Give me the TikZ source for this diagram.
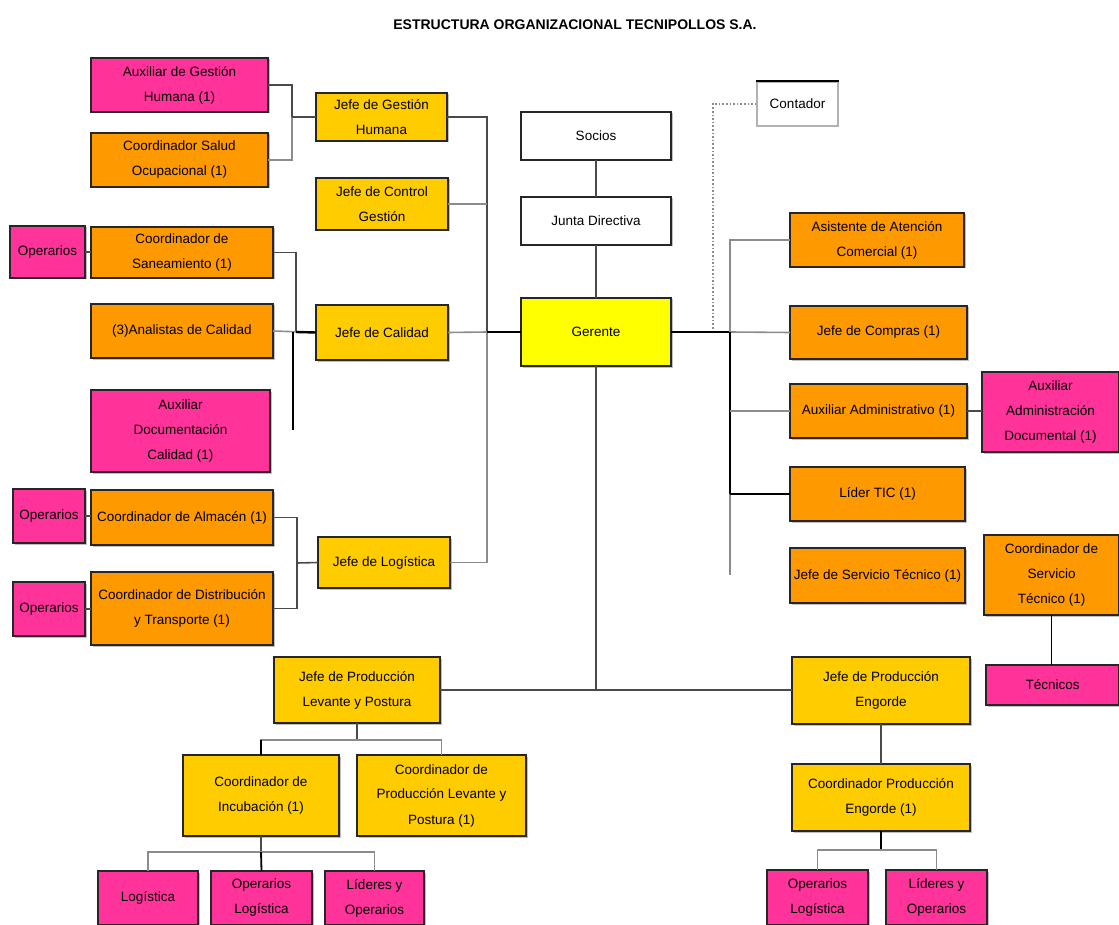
\documentclass[tikz,border=0pt]{standalone}
\usepackage{fontspec}
\setmainfont{Liberation Sans}
\usetikzlibrary{shadows}
\definecolor{pk}{HTML}{FF3399}
\definecolor{org}{HTML}{FF9900}
\definecolor{yl}{HTML}{FFCC00}
\definecolor{gy}{HTML}{FFFF00}
\definecolor{ln}{HTML}{4A4A4A}
\tikzset{
 base/.style={draw=black!85, line width=1.5pt, align=center, inner sep=0pt, outer sep=0pt,
   font=\fontsize{13.5}{25}\selectfont,
   drop shadow={shadow xshift=1.5pt, shadow yshift=-1.5pt, fill=black!25, opacity=1}},
 pinkbox/.style={base, fill=pk},
 orangebox/.style={base, fill=org},
 yellowbox/.style={base, fill=yl},
 whitebox/.style={base, fill=white},
 gerbox/.style={base, fill=gy},
 conn/.style={draw=ln, line width=1.6pt},
 dark/.style={draw=black, line width=2.4pt},
 light/.style={draw=black!45, line width=1.6pt},
 dotline/.style={draw=black!45, line width=1.6pt, dotted},
}
\newcommand\mybox[7]{\node[#6, minimum width={(#4-#2)*1pt}, minimum height={(#5-#3)*1pt}] (#1) at ({(#2+#4)/2},{(#3+#5)/2}) {#7};}
\begin{document}
\begin{tikzpicture}[x=1pt,y=-1pt]
\useasboundingbox[fill=white] (0,0) rectangle (1119,925);
\node[font=\fontsize{14}{16}\selectfont\bfseries] (title) at (575,25) {ESTRUCTURA ORGANIZACIONAL TECNIPOLLOS S.A.};
% left top
\mybox{auxgh}{91}{58}{268}{112}{pinkbox}{Auxiliar de Gestión\\Humana (1)}
\mybox{csalud}{91}{133}{268}{187}{orangebox}{Coordinador Salud\\Ocupacional (1)}
\mybox{jgh}{316}{93}{447}{141}{yellowbox}{Jefe de Gestión\\Humana}
\mybox{jcg}{316}{178}{448}{230}{yellowbox}{Jefe de Control\\Gestión}
% calidad
\mybox{op1}{10}{226}{85}{278}{pinkbox}{Operarios}
\mybox{csan}{91}{227}{273}{278}{orangebox}{Coordinador de\\Saneamiento (1)}
\mybox{anal}{91}{304}{273}{358}{orangebox}{(3)Analistas de Calidad}
\mybox{jcal}{316}{305}{448}{360}{yellowbox}{Jefe de Calidad}
\mybox{auxdoc}{91}{390}{270}{472}{pinkbox}{Auxiliar\\Documentación\\Calidad (1)}
% logistica
\mybox{op2}{13}{489}{85}{543}{pinkbox}{Operarios}
\mybox{calm}{91}{490}{273}{545}{orangebox}{Coordinador de Almacén (1)}
\mybox{op3}{13}{582}{85}{636}{pinkbox}{Operarios}
\mybox{cdist}{91}{572}{273}{645}{orangebox}{Coordinador de Distribución\\y Transporte (1)}
\mybox{jlog}{318}{537}{450}{588}{yellowbox}{Jefe de Logística}
% center
\mybox{socios}{521}{112}{671}{160}{whitebox}{Socios}
\mybox{junta}{521}{197}{671}{245}{whitebox}{Junta Directiva}
\mybox{ger}{521}{298}{671}{366}{gerbox}{Gerente}
\node[draw=black!30, line width=1.2pt, fill=white, minimum width=81pt, minimum height=44pt, inner sep=0pt, font=\fontsize{13.5}{25}\selectfont] (cont) at (797.5,104) {Contador};
\draw[black, line width=2pt] (cont.north west) -- (cont.north east);
% right
\mybox{aac}{790}{213}{964}{267}{orangebox}{Asistente de Atención\\Comercial (1)}
\mybox{jcomp}{790}{306}{967}{359}{orangebox}{Jefe de Compras (1)}
\mybox{auxadm}{790}{384}{967}{438}{orangebox}{Auxiliar Administrativo (1)}
\mybox{auxadmdoc}{982}{372}{1119}{452}{pinkbox}{Auxiliar\\Administración\\Documental (1)}
\mybox{ltic}{790}{467}{965}{521}{orangebox}{Líder TIC (1)}
\mybox{jst}{790}{548}{965}{603}{orangebox}{Jefe de Servicio Técnico (1)}
\mybox{cst}{984}{535}{1119}{615}{orangebox}{Coordinador de\\Servicio\\Técnico (1)}
\mybox{tec}{986}{665}{1119}{705}{pinkbox}{Técnicos}
% bottom left
\mybox{jpl}{274}{657}{440}{723}{yellowbox}{Jefe de Producción\\Levante y Postura}
\mybox{cinc}{183}{755}{339}{836}{yellowbox}{Coordinador de\\Incubación (1)}
\mybox{cpl}{357}{755}{526}{836}{yellowbox}{Coordinador de\\Producción Levante y\\Postura (1)}
\mybox{p1}{98}{871}{198}{925}{pinkbox}{Logística}
\mybox{p2}{211}{871}{312}{925}{pinkbox}{Operarios\\Logística}
\mybox{p3}{325}{871}{424}{925}{pinkbox}{Líderes y\\Operarios}
% bottom right
\mybox{jpe}{792}{657}{970}{724}{yellowbox}{Jefe de Producción\\Engorde}
\mybox{cpe}{792}{764}{970}{831}{yellowbox}{Coordinador Producción\\Engorde (1)}
\mybox{q1}{767}{870}{868}{925}{pinkbox}{Operarios\\Logística}
\mybox{q2}{886}{870}{987}{925}{pinkbox}{Líderes y\\Operarios}
% junction coordinates
\coordinate (jA) at (292,117);
\coordinate (tL) at (487,332);
\coordinate (cA) at (296,332);
\coordinate (cB) at (293,430);
\coordinate (lA) at (297,563);
\coordinate (gB) at (596,690);
\coordinate (rT) at (730,332);
\coordinate (rBot) at (730,575);
\coordinate (dT) at (713,330);
\coordinate (bL) at (357,740);
\coordinate (bL2) at (261,852);
\coordinate (bR) at (881,850);
% connectors
\draw[conn] (auxgh.east) -| (jA);
\draw[light] (csalud.east) -| (jA);
\draw[conn] (jA) -- (jgh.west);
\draw[conn] (jgh.east) -| (tL);
\draw[light] (jcg.east) -- (jcg.east -| tL);
\draw[light] (jlog.east) -| (tL);
\draw[light] (jcal.east) -- (tL);
\draw[dark] (tL) -- (ger.west);
\draw[conn] (op1.east) -- (op1.east -| csan.west);
\draw[conn] (csan.east) -| (cA);
\draw[light] (anal.east) -- (jcal.west);
\draw[dark] (cA) -- (jcal.west);
\coordinate (cC) at (293,332);
\draw[black, line width=2pt] (cC) -- (cB);
\draw[conn] (op2.east) -- (op2.east -| calm.west);
\draw[conn] (op3.east) -- (op3.east -| cdist.west);
\draw[conn] (calm.east) -| (lA);
\draw[conn] (cdist.east) -| (lA);
\draw[conn] (lA) -- (jlog.west);
\draw[conn] (socios) -- (junta);
\draw[conn] (junta) -- (ger);
\draw[conn] (ger.south) -- (gB);
\draw[conn] (jpl.east) -- (gB);
\draw[conn] (gB) -- (gB -| jpe.west);
\draw[dotline] (cont.west) -| (dT);
\draw[dark] (ger.east) -- (rT);
\draw[light] (rT) -- (jcomp.west);
\draw[light] (aac.west) -| (rT);
\draw[black, line width=2.2pt] (rT) -- (ltic.west -| rT);
\draw[light] (ltic.west -| rT) -- (rBot);
\draw[light] (auxadm.west) -- (auxadm.west -| rT);
\draw[black, line width=2pt] (ltic.west) -- (ltic.west -| rT);
\draw[conn] (auxadm.east) -- (auxadm.east -| auxadmdoc.west);
\draw[black, line width=1.8pt] (cst.south) -- (cst.south |- tec.north);
\draw[conn] (jpl.south) -- (bL);
\draw[light] (cinc.north) |- (bL);
\draw[light] (cpl.north) |- (bL);
\draw[black, line width=1.8pt] (cinc.north) -- (cinc.north |- bL);
\draw[conn] (cinc.south) -- (bL2);
\draw[light] (p1.north) |- (bL2);
\draw[light] (p3.north) |- (bL2);
\draw[black, line width=1.8pt] (p2.north) -- (bL2);
\draw[conn] (jpe.south) -- (cpe.north);
\draw[black, line width=1.8pt] (cpe.south) -- (bR);
\draw[light] (q1.north) |- (bR);
\draw[light] (q2.north) |- (bR);
\end{tikzpicture}
\end{document}
